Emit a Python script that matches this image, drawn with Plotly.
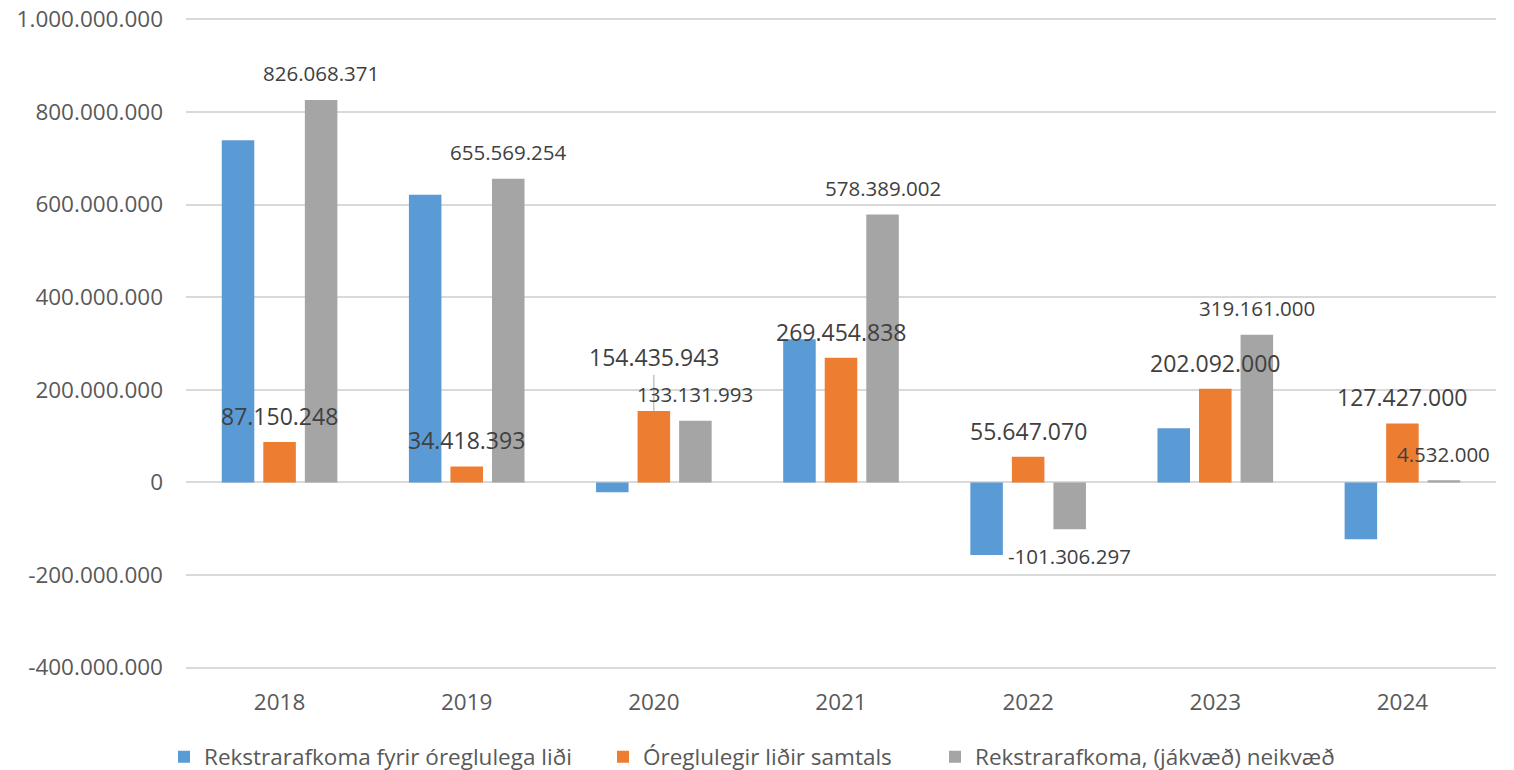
import plotly.graph_objects as go

# ---- data ----
categories = ["2018", "2019", "2020", "2021", "2022", "2023", "2024"]
series_names = [
    "Rekstrarafkoma fyrir óreglulega liði",
    "Óreglulegir liðir samtals",
    "Rekstrarafkoma, (jákvæð) neikvæð",
]
rekstur_fyrir = [739000000, 621000000, -21000000, 309000000, -157000000, 117000000, -123000000]
oreglulegir = [87150248, 34418393, 154435943, 269454838, 55647070, 202092000, 127427000]
rekstrarafkoma = [826068371, 655569254, 133131993, 578389002, -101306297, 319161000, 4532000]

y_tickvals = [-400000000, -200000000, 0, 200000000, 400000000, 600000000, 800000000, 1000000000]
y_ticktext = ["-400.000.000", "-200.000.000", "0", "200.000.000", "400.000.000",
              "600.000.000", "800.000.000", "1.000.000.000"]

# ---- style ----
colors = ["#5B9BD5", "#ED7D31", "#A5A5A5"]
FONT = "Open Sans"
TICK_COLOR = "#595959"
LABEL_COLOR = "#404040"
GRID = "#D9D9D9"
PITCH = 41.5  # px between bar centres inside a group
# the page body adds an 8px offset; the figure is sized to fill the rest of the window
FIG_W, FIG_H = 1506, 762
PAD = 3000000  # small range padding so the end gridlines are drawn


def fmt(v):
    s = f"{abs(v):,}".replace(",", ".")
    return ("-" if v < 0 else "") + s


fig = go.Figure()
all_series = [rekstur_fyrir, oreglulegir, rekstrarafkoma]
for i, (name, vals) in enumerate(zip(series_names, all_series)):
    fig.add_trace(go.Bar(
        x=categories, y=vals, name=name,
        marker=dict(color=colors[i], line=dict(width=0)),
        legend=["legend", "legend2", "legend3"][i],
        hoverinfo="skip",
    ))

annotations = []
# Orange labels (x given as category index)
for idx, (cat, v) in enumerate(zip(categories, oreglulegir)):
    if cat == "2020":
        annotations.append(dict(
            x=idx, y=v, xref="x", yref="y", text=fmt(v),
            showarrow=True, arrowhead=0, arrowwidth=1, arrowcolor="#A6A6A6",
            ax=0, ay=-53.5, standoff=0,
            font=dict(family=FONT, size=23, color=LABEL_COLOR),
        ))
    else:
        annotations.append(dict(
            x=idx, y=v, xref="x", yref="y", text=fmt(v), showarrow=False,
            xshift=0, yshift=26 if v >= 0 else -27, yanchor="middle",
            font=dict(family=FONT, size=23, color=LABEL_COLOR),
        ))
# Grey labels
for idx, v in enumerate(rekstrarafkoma):
    annotations.append(dict(
        x=idx, y=v, xref="x", yref="y", text=fmt(v), showarrow=False,
        xshift=PITCH, yshift=26.5 if v >= 0 else -27, yanchor="middle",
        font=dict(family=FONT, size=20.5, color=LABEL_COLOR),
    ))

legend_common = dict(
    orientation="h", xref="container", yref="container",
    yanchor="middle", y=1 - 749 / FIG_H, xanchor="left",
    font=dict(family=FONT, size=22.5, color=TICK_COLOR),
    bgcolor="rgba(0,0,0,0)", borderwidth=0,
    itemclick=False, itemdoubleclick=False,
)

fig.update_layout(
    width=FIG_W, height=FIG_H,
    margin=dict(l=178, r=18, t=9.6, b=100.6, autoexpand=False),
    paper_bgcolor="white", plot_bgcolor="white",
    font=dict(family=FONT, color=TICK_COLOR),
    barmode="group", bargap=0.334, bargroupgap=0.217,
    showlegend=True,
    legend=dict(x=156 / FIG_W, **legend_common),
    legend2=dict(x=595 / FIG_W, **legend_common),
    legend3=dict(x=927 / FIG_W, **legend_common),
    annotations=annotations,
    xaxis=dict(
        type="category", range=[-0.5, 6.5], automargin=False,
        showgrid=False, showline=False, ticks="",
        tickfont=dict(family=FONT, size=22.5, color=TICK_COLOR),
        ticklabelstandoff=17,
    ),
    yaxis=dict(
        range=[-400000000 - PAD, 1000000000 + PAD], automargin=False,
        tickvals=y_tickvals, ticktext=y_ticktext,
        showgrid=True, gridcolor=GRID, gridwidth=1.5,
        zeroline=True, zerolinecolor=GRID, zerolinewidth=1.5,
        showline=False, ticks="", ticklabeloverflow="allow",
        tickfont=dict(family=FONT, size=22.5, color=TICK_COLOR),
        ticklabelstandoff=22,
    ),
)

fig.write_html("out.html")
